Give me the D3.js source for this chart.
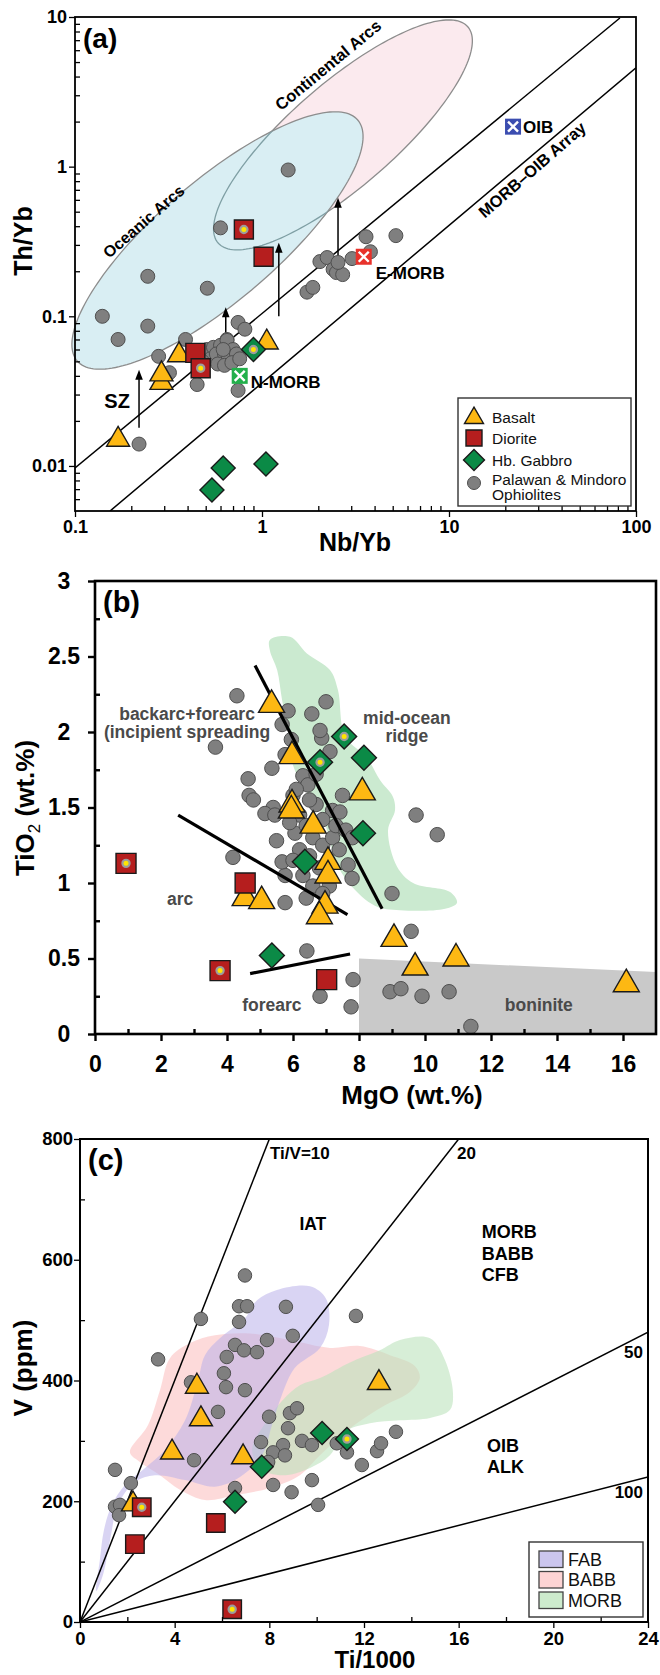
<!DOCTYPE html>
<html>
<head>
<meta charset="utf-8">
<script src="https://cdn.jsdelivr.net/npm/d3@7"></script>
<style>
body { margin: 0; background: #fff; }
svg { display: block; }
</style>
</head>
<body>
<svg id="fig" width="660" height="1675"></svg>
<script>
// ---------- data: panel (a) Th/Yb vs Nb/Yb ----------
const aOphiolites = [
  [0.14, 0.10], [0.245, 0.185], [0.51, 0.154], [0.245, 0.086], [0.17, 0.070], [0.28, 0.054],
  [0.32, 0.042], [0.39, 0.070], [0.45, 0.035], [0.22, 0.014], [0.60, 0.39], [1.38, 0.95],
  [0.745, 0.091], [0.81, 0.082], [0.65, 0.070], [0.745, 0.032],
  [0.51, 0.060], [0.55, 0.062], [0.60, 0.064], [0.65, 0.069], [0.70, 0.060], [0.53, 0.052],
  [0.57, 0.056], [0.63, 0.056], [0.66, 0.054], [0.73, 0.056], [0.58, 0.048], [0.63, 0.047],
  [0.69, 0.049], [0.76, 0.052], [0.62, 0.060], [0.48, 0.050],
  [1.74, 0.145], [1.87, 0.156], [2.04, 0.232], [2.23, 0.247], [2.4, 0.206], [2.5, 0.196],
  [2.7, 0.19], [2.55, 0.229], [3.03, 0.243], [3.6, 0.34], [5.2, 0.346], [3.8, 0.27]
];
const aBasalt = [[0.17, 0.015], [0.29, 0.036], [0.29, 0.041], [0.36, 0.055], [1.06, 0.067]];
const aDiorite = [[0.44, 0.057], [1.02, 0.25]];
const aDioriteDot = [[0.80, 0.38], [0.47, 0.045]];
const aGabbro = [[0.62, 0.0097], [0.54, 0.0069], [1.05, 0.0103]];
const aGabbroDot = [[0.90, 0.060]];
const aReference = [
  { name: "N-MORB", nb: 0.76, th: 0.04, color: "#22b04b" },
  { name: "E-MORB", nb: 3.5, th: 0.25, color: "#e8322b" },
  { name: "OIB", nb: 22, th: 1.85, color: "#3b4db0" }
];
// arrows: Nb/Yb, Th/Yb start, Th/Yb end
const aArrows = [[0.22, 0.018, 0.044], [0.64, 0.074, 0.115], [1.23, 0.10, 0.31], [2.55, 0.233, 0.62]];
const aArrayLines = [[[0.1, 0.0097], [82, 9.85]], [[0.154, 0.005], [100, 4.57]]];
// ellipse fields: centre, end of first semi-axis, end of second semi-axis
const aOceanicArcs = { c: [0.578, 0.321], a: [3.25, 2.05], b: [0.935, 0.16] };
const aContinentalArcs = { c: [2.71, 1.63], a: [12.6, 8.61], b: [4.13, 0.895] };
const aXTicks = [0.1, 1, 10, 100];
const aYTicks = [0.01, 0.1, 1, 10];

// ---------- data: panel (b) TiO2 vs MgO ----------
const bOphiolites = [
  [4.3, 2.24], [3.65, 1.90], [5.85, 2.14], [5.67, 2.05], [6.57, 2.12], [7.0, 2.2], [5.36, 1.76],
  [4.64, 1.69], [4.67, 1.58], [4.8, 1.55], [5.76, 1.85], [6.3, 1.71], [6.87, 1.96], [6.82, 2.01],
  [7.12, 1.87], [6.45, 1.65], [5.4, 1.50], [5.15, 1.46], [7.2, 1.48], [6.7, 1.52], [7.42, 1.47],
  [9.73, 1.45], [10.37, 1.32], [9.0, 0.93], [9.58, 0.68], [7.82, 0.36], [7.76, 0.18], [8.94, 0.28],
  [9.27, 0.30], [9.91, 0.25], [10.73, 0.28], [11.39, 0.05], [6.82, 0.25], [7.67, 1.12], [7.79, 1.03],
  [4.18, 1.17], [5.76, 1.05], [5.76, 0.87], [6.42, 0.55], [5.5, 1.28], [5.67, 1.14], [6.06, 1.33],
  [5.45, 1.45], [6.0, 1.58], [6.2, 1.45], [6.4, 1.38], [6.6, 1.30], [6.9, 1.25], [7.2, 1.30],
  [7.4, 1.22], [6.2, 1.22], [6.5, 1.18], [6.8, 1.10], [7.1, 0.98], [6.6, 0.98], [6.3, 1.05],
  [7.3, 1.38], [7.6, 1.35], [6.0, 1.15], [5.9, 1.40], [6.1, 1.62], [6.5, 1.55], [6.9, 1.42],
  [6.9, 0.93], [6.4, 0.9], [7.5, 1.58], [7.8, 1.30], [6.7, 1.72], [5.95, 1.95]
];
const bBasalt = [
  [5.35, 2.18], [5.97, 1.84], [5.97, 1.52], [5.95, 1.48], [8.1, 1.6], [6.61, 1.38], [7.06, 1.14],
  [7.06, 1.05], [4.55, 0.9], [5.05, 0.88], [6.97, 0.85], [6.8, 0.78], [9.06, 0.63], [9.7, 0.44],
  [10.94, 0.50], [16.1, 0.33]
];
const bDiorite = [[4.55, 1.0], [7.02, 0.36]];
const bDioriteDot = [[0.94, 1.13], [3.79, 0.42]];
const bGabbro = [[8.15, 1.83], [8.12, 1.33], [6.36, 1.14], [5.36, 0.52]];
const bGabbroDot = [[6.82, 1.80], [7.55, 1.97]];
const bMidOceanField = [
  [5.30, 2.61], [5.91, 2.63], [6.42, 2.52], [7.12, 2.41], [7.36, 2.28], [7.58, 1.97], [8.24, 1.83],
  [8.64, 1.68], [9.03, 1.57], [9.09, 1.48], [8.88, 1.35], [9.15, 1.11], [9.64, 1.00], [10.76, 0.94],
  [10.97, 0.87], [10.61, 0.83], [9.24, 0.82], [8.48, 0.85], [7.73, 0.99], [7.27, 1.15], [7.12, 1.28],
  [6.82, 1.48], [6.36, 1.62], [6.0, 1.78], [5.85, 2.01], [5.67, 2.21], [5.52, 2.41], [5.30, 2.54]
];
const bBoniniteField = [[8, 0], [8, 0.5], [17, 0.41], [17, 0]];
const bDividers = [[[4.85, 2.44], [8.7, 0.83]], [[2.52, 1.45], [7.65, 0.79]], [[4.7, 0.40], [7.73, 0.53]]];
const bXTicks = [0, 2, 4, 6, 8, 10, 12, 14, 16];
const bYTicks = [0, 0.5, 1, 1.5, 2, 2.5, 3];

// ---------- data: panel (c) V vs Ti/1000 ----------
const cOphiolites = [
  [3.3, 435], [5.11, 502], [6.97, 574], [6.72, 523], [7.06, 523], [6.72, 497], [8.7, 522], [8.99, 474],
  [7.9, 467], [6.55, 459], [6.93, 450], [7.48, 447], [6.2, 439], [6.08, 412], [6.17, 389], [6.97, 384],
  [4.69, 397], [5.83, 348], [4.82, 268], [1.48, 252], [2.15, 230], [1.48, 191], [1.69, 194], [1.65, 177],
  [7.99, 340], [8.87, 346], [9.17, 354], [8.79, 321], [7.65, 298], [8.58, 293], [8.16, 281], [8.66, 276],
  [9.38, 300], [9.8, 293], [8.16, 227], [8.94, 215], [9.8, 235], [10.06, 194], [7.95, 265], [6.55, 222],
  [10.85, 296], [11.28, 281], [11.91, 260], [12.55, 283], [12.72, 296], [13.35, 315], [11.66, 507]
];
const cBasalt = [[4.94, 390], [5.11, 336], [3.89, 281], [6.89, 273], [2.24, 195], [12.63, 396]];
const cDiorite = [[2.32, 129], [5.74, 164]];
const cDioriteDot = [[2.61, 190], [6.43, 21]];
const cGabbro = [[10.23, 313], [7.68, 257], [6.55, 199]];
const cGabbroDot = [[11.28, 303]];
const cTiVRatios = [10, 20, 50, 100];
const cFAB = [
  [0.68, 51], [0.84, 103], [1.01, 152], [1.35, 194], [1.90, 227], [2.75, 255], [3.59, 285], [4.44, 334],
  [4.99, 401], [5.28, 442], [5.91, 470], [6.97, 503], [7.48, 533], [8.32, 550], [9.72, 556], [10.39, 536],
  [10.52, 492], [10.14, 454], [9.08, 421], [8.53, 376], [8.11, 326], [7.69, 276], [6.76, 240], [5.70, 224],
  [4.44, 235], [3.17, 243], [2.32, 232], [1.61, 194], [1.27, 136], [0.97, 78]
];
const cBABB = [
  [2.11, 281], [2.87, 326], [3.38, 384], [3.80, 437], [4.65, 462], [5.70, 475], [7.18, 478], [8.87, 467],
  [10.56, 454], [11.83, 457], [13.10, 442], [14.15, 424], [14.36, 404], [13.94, 381], [12.89, 359],
  [11.41, 321], [10.14, 276], [9.29, 243], [8.03, 222], [6.55, 210], [5.28, 202], [4.22, 219], [3.38, 243],
  [2.53, 265]
];
const cMORB = [
  [8.58, 368], [9.29, 392], [10.14, 404], [11.41, 430], [12.67, 450], [13.52, 467], [14.79, 470],
  [15.42, 434], [15.76, 379], [15.63, 351], [14.79, 338], [13.52, 334], [12.25, 329], [11.20, 315],
  [10.56, 276], [9.72, 255], [8.66, 243], [7.69, 252], [7.27, 285], [7.82, 329]
];
const cXTicks = [0, 4, 8, 12, 16, 20, 24];
const cYTicks = [0, 200, 400, 600, 800];

// ---------- helpers ----------
const FONT = "'Liberation Sans', Arial, Helvetica, sans-serif";
const COL = {
  gray: "#7f7f7f", grayEdge: "#4f4f4f", basalt: "#fdb813", diorite: "#b51e1e",
  gabbro: "#0b8a46", dot: "#ffe400", ring: "#9c9c9c", edge: "#1a1a1a"
};
const svg = d3.select("#fig").attr("font-family", FONT);

function drawAxes(g, x, y, cfg) {
  const yb = y.range()[0], xl = x.range()[0];
  const mk = (axis, vals, size, fmt, pad, tr) => {
    const a = g.append("g").attr("transform", tr)
      .call(axis.tickValues(vals).tickSize(size).tickPadding(pad).tickFormat(fmt));
    a.select(".domain").remove();
    a.selectAll("line").attr("stroke", "#000").attr("stroke-width", cfg.tickW);
    a.selectAll("text").attr("fill", "#000").attr("font-weight", "bold")
      .attr("font-size", cfg.font).attr("font-family", FONT);
    return a;
  };
  mk(d3.axisBottom(x), cfg.xMinor, -cfg.minor, () => "", 0, `translate(0,${yb})`);
  const xa = mk(d3.axisBottom(x), cfg.xMajor, cfg.major, cfg.fmt, cfg.padX, `translate(0,${yb})`);
  mk(d3.axisLeft(y), cfg.yMinor, -cfg.minor, () => "", 0, `translate(${xl},0)`);
  const ya = mk(d3.axisLeft(y), cfg.yMajor, cfg.major, cfg.fmt, cfg.padY, `translate(${xl},0)`);
  g.append("rect")
    .attr("x", x.range()[0]).attr("y", y.range()[1])
    .attr("width", x.range()[1] - x.range()[0]).attr("height", y.range()[0] - y.range()[1])
    .attr("fill", "none").attr("stroke", "#000").attr("stroke-width", cfg.frameW);
  return { xa, ya };
}

function drawMarker(g, kind, px, py, s, withDot) {
  let el;
  if (kind === "circle") {
    el = g.append("circle").attr("cx", px).attr("cy", py).attr("r", s / 2)
      .attr("fill", COL.gray).attr("stroke", COL.grayEdge).attr("stroke-width", 1);
  } else if (kind === "tri") {
    el = g.append("path").attr("d", d3.symbol(d3.symbolTriangle, s * s * Math.sqrt(3) / 4)())
      .attr("transform", `translate(${px},${py})`).attr("fill", COL.basalt);
  } else if (kind === "sq") {
    el = g.append("path").attr("d", d3.symbol(d3.symbolSquare, s * s)())
      .attr("transform", `translate(${px},${py})`).attr("fill", COL.diorite);
  } else {
    el = g.append("path").attr("d", d3.symbol(d3.symbolSquare, s * s / 2)())
      .attr("transform", `translate(${px},${py}) rotate(45)`).attr("fill", COL.gabbro);
  }
  if (kind !== "circle") el.attr("stroke", COL.edge).attr("stroke-width", 1.4).attr("stroke-linejoin", "miter");
  if (withDot) {
    g.append("circle").attr("cx", px).attr("cy", py).attr("r", 3.6)
      .attr("fill", COL.dot).attr("stroke", COL.ring).attr("stroke-width", 2.2);
  }
}

function plotSet(g, data, x, y, kind, s, withDot) {
  data.forEach(d => drawMarker(g, kind, x(d[0]), y(d[1]), s, withDot));
}

function label(g, text, px, py, o = {}) {
  return g.append("text").attr("x", px).attr("y", py).text(text)
    .attr("font-size", o.size || 16).attr("font-weight", o.weight || "bold")
    .attr("fill", o.fill || "#000").attr("text-anchor", o.anchor || "start");
}

function rotLabel(g, text, px, py, ang, size) {
  return g.append("text").text(text)
    .attr("transform", `translate(${px},${py}) rotate(${ang})`)
    .attr("text-anchor", "middle").attr("dominant-baseline", "central")
    .attr("font-size", size).attr("font-weight", "bold").attr("fill", "#000");
}

// ================= panel (a) =================
const gA = svg.append("g");
const xA = d3.scaleLog().domain([0.1, 100]).range([75, 636]);
const yA = d3.scaleLog().domain([0.005, 10]).range([511, 17]);
const logMinor = (lo, hi) => {
  const out = [];
  for (let e = Math.floor(Math.log10(lo)); e < Math.ceil(Math.log10(hi)); e++) {
    for (let k = 2; k <= 9; k++) { const v = k * 10 ** e; if (v > lo && v < hi) out.push(+v.toPrecision(3)); }
  }
  return out;
};

function ellipsePath(e) {
  const L = p => [Math.log10(p[0]), Math.log10(p[1])];
  const c = L(e.c), a = L(e.a), b = L(e.b);
  const pts = d3.range(0, 2 * Math.PI, Math.PI / 90).map(t => {
    const lx = c[0] + (a[0] - c[0]) * Math.cos(t) + (b[0] - c[0]) * Math.sin(t);
    const ly = c[1] + (a[1] - c[1]) * Math.cos(t) + (b[1] - c[1]) * Math.sin(t);
    return [xA(10 ** lx), yA(10 ** ly)];
  });
  return d3.line()(pts) + "Z";
}

const defs = svg.append("defs");
defs.append("clipPath").attr("id", "clipOcean").append("path").attr("d", ellipsePath(aOceanicArcs));
defs.append("clipPath").attr("id", "clipA").append("rect")
  .attr("x", 75).attr("y", 17).attr("width", 561).attr("height", 494);

gA.append("path").attr("d", ellipsePath(aContinentalArcs))
  .attr("fill", "#fbeaee").attr("stroke", "#8d8d8d").attr("stroke-width", 1.3);
gA.append("path").attr("d", ellipsePath(aOceanicArcs))
  .attr("fill", "#d9eef3").attr("stroke", "#8d8d8d").attr("stroke-width", 1.3);
gA.append("path").attr("d", ellipsePath(aContinentalArcs)).attr("clip-path", "url(#clipOcean)")
  .attr("fill", "none").attr("stroke", "#7f9fa4").attr("stroke-width", 1.3);

gA.append("g").attr("clip-path", "url(#clipA)").selectAll("line").data(aArrayLines).join("line")
  .attr("x1", d => xA(d[0][0])).attr("y1", d => yA(d[0][1]))
  .attr("x2", d => xA(d[1][0])).attr("y2", d => yA(d[1][1]))
  .attr("stroke", "#000").attr("stroke-width", 1.5);

aArrows.forEach(d => {
  const px = xA(d[0]), y0 = yA(d[1]), y1 = yA(d[2]);
  gA.append("line").attr("x1", px).attr("x2", px).attr("y1", y0).attr("y2", y1 + 8)
    .attr("stroke", "#000").attr("stroke-width", 1.5);
  gA.append("path").attr("d", `M${px},${y1}L${px - 3.8},${y1 + 10}L${px + 3.8},${y1 + 10}Z`).attr("fill", "#000");
});

drawAxes(gA, xA, yA, {
  xMajor: aXTicks, xMinor: logMinor(0.1, 100), yMajor: aYTicks, yMinor: logMinor(0.005, 10),
  fmt: d => String(d), font: 18, major: 6, minor: 5, padX: 3, padY: 2, tickW: 1.3, frameW: 1.8
});

plotSet(gA, aOphiolites, xA, yA, "circle", 14);
plotSet(gA, aBasalt, xA, yA, "tri", 23);
plotSet(gA, aDiorite, xA, yA, "sq", 19);
plotSet(gA, aDioriteDot, xA, yA, "sq", 19, true);
plotSet(gA, aGabbro, xA, yA, "dia", 24);
plotSet(gA, aGabbroDot, xA, yA, "dia", 24, true);

aReference.forEach(r => {
  const px = xA(r.nb), py = yA(r.th), h = 8;
  gA.append("rect").attr("x", px - h).attr("y", py - h).attr("width", 2 * h).attr("height", 2 * h).attr("fill", r.color);
  gA.append("path").attr("d", `M${px - h + 3},${py - h + 3}L${px + h - 3},${py + h - 3}M${px + h - 3},${py - h + 3}L${px - h + 3},${py + h - 3}`)
    .attr("stroke", "#fff").attr("stroke-width", 2.4);
});
label(gA, "N-MORB", xA(0.76) + 11, yA(0.04) + 12, { size: 17 });
label(gA, "E-MORB", xA(3.5) + 12, yA(0.25) + 22, { size: 17 });
label(gA, "OIB", xA(22) + 10, yA(1.85) + 6, { size: 17 });
label(gA, "SZ", xA(0.168), yA(0.0271) + 7, { size: 20, anchor: "middle" });

rotLabel(gA, "Oceanic Arcs", xA(0.245) - 4, yA(0.404) - 4, -41, 16);
rotLabel(gA, "Continental Arcs", xA(2.31) - 2, yA(4.64) - 2, -39.5, 16.5);
rotLabel(gA, "MORB\u2013OIB Array", xA(27.8), yA(0.955), -41, 16.5);

label(gA, "(a)", 83, 48, { size: 28 });
label(gA, "Nb/Yb", 355, 551, { size: 25, anchor: "middle" });
gA.append("text").text("Th/Yb").attr("transform", "translate(32,241) rotate(-90)")
  .attr("text-anchor", "middle").attr("font-size", 25).attr("font-weight", "bold");

// legend (a)
const lgA = gA.append("g").attr("transform", "translate(458,398)");
lgA.append("rect").attr("width", 173).attr("height", 108).attr("fill", "#fff")
  .attr("stroke", "#333").attr("stroke-width", 1.4);
drawMarker(lgA, "tri", 16, 20, 19);
drawMarker(lgA, "sq", 16, 40, 16);
drawMarker(lgA, "dia", 16, 62, 21);
drawMarker(lgA, "circle", 16, 85, 13);
[["Basalt", 25], ["Diorite", 46], ["Hb. Gabbro", 68], ["Palawan & Mindoro", 87], ["Ophiolites", 101.5]]
  .forEach(([t, yy]) => label(lgA, t, 34, yy, { size: 15.5, weight: "normal", fill: "#111" }));

// ================= panel (b) =================
const gB = svg.append("g");
const xB = d3.scaleLinear().domain([0, 17]).range([95, 656]);
const yB = d3.scaleLinear().domain([0, 3]).range([1034, 581]);

gB.append("path").datum(bMidOceanField)
  .attr("d", d3.line().x(d => xB(d[0])).y(d => yB(d[1])).curve(d3.curveCatmullRomClosed.alpha(0.5)))
  .attr("fill", "#cbead0");
gB.append("path").datum(bBoniniteField)
  .attr("d", d3.line().x(d => xB(d[0])).y(d => yB(d[1])))
  .attr("fill", "#c9c9c9");

const tb = { size: 17.5, fill: "#4a4a4a", anchor: "middle" };
label(gB, "backarc+forearc", xB(2.79), yB(2.08), tb);
label(gB, "(incipient spreading", xB(2.79), yB(1.96), tb);
label(gB, "mid-ocean", xB(9.45), yB(2.05), tb);
label(gB, "ridge", xB(9.45), yB(1.935), tb);
label(gB, "arc", xB(2.58), yB(0.854), tb);
label(gB, "forearc", xB(5.36), yB(0.152), tb);
label(gB, "boninite", xB(13.45), yB(0.152), tb);

plotSet(gB, bOphiolites, xB, yB, "circle", 14.5);

gB.selectAll("line.div").data(bDividers).join("line").attr("class", "div")
  .attr("x1", d => xB(d[0][0])).attr("y1", d => yB(d[0][1]))
  .attr("x2", d => xB(d[1][0])).attr("y2", d => yB(d[1][1]))
  .attr("stroke", "#000").attr("stroke-width", 3.2);

plotSet(gB, bBasalt, xB, yB, "tri", 26);
plotSet(gB, bDiorite, xB, yB, "sq", 20);
plotSet(gB, bDioriteDot, xB, yB, "sq", 20, true);
plotSet(gB, bGabbro, xB, yB, "dia", 25);
plotSet(gB, bGabbroDot, xB, yB, "dia", 25, true);

const axB = drawAxes(gB, xB, yB, {
  xMajor: bXTicks, xMinor: [1, 3, 5, 7, 9, 11, 13, 15],
  yMajor: bYTicks, yMinor: [0.25, 0.75, 1.25, 1.75, 2.25, 2.75],
  fmt: d => String(d), font: 23, major: 7, minor: 5, padX: 15, padY: 2, tickW: 2.4, frameW: 2.6
});
axB.ya.selectAll("text").attr("text-anchor", "middle").attr("x", -31);

label(gB, "(b)", 103, 612, { size: 29 });
label(gB, "MgO (wt.%)", 412, 1104, { size: 26, anchor: "middle" });
const tiLab = gB.append("text").attr("transform", "translate(34,808) rotate(-90)")
  .attr("text-anchor", "middle").attr("font-size", 26).attr("font-weight", "bold");
tiLab.append("tspan").text("TiO");
tiLab.append("tspan").text("2").attr("font-size", 17).attr("font-weight", "normal").attr("dy", 6);
tiLab.append("tspan").text(" (wt.%)").attr("dy", -6);

// ================= panel (c) =================
const gC = svg.append("g");
const xC = d3.scaleLinear().domain([0, 24]).range([80, 648]);
const yC = d3.scaleLinear().domain([0, 800]).range([1622, 1139]);
const fieldLine = d3.line().x(d => xC(d[0])).y(d => yC(d[1])).curve(d3.curveCatmullRomClosed.alpha(0.5));

gC.append("path").attr("d", fieldLine(cBABB)).attr("fill", "#fbc4c4").attr("fill-opacity", 0.62);
gC.append("path").attr("d", fieldLine(cMORB)).attr("fill", "#bde3bd").attr("fill-opacity", 0.6);
gC.append("path").attr("d", fieldLine(cFAB)).attr("fill", "#b9b0ea").attr("fill-opacity", 0.55);

defs.append("clipPath").attr("id", "clipC").append("rect")
  .attr("x", 80).attr("y", 1139).attr("width", 568).attr("height", 483);
gC.append("g").attr("clip-path", "url(#clipC)").selectAll("line").data(cTiVRatios).join("line")
  .attr("x1", xC(0)).attr("y1", yC(0))
  .attr("x2", r => xC(Math.min(24, 800 * r / 1000)))
  .attr("y2", r => yC(Math.min(24, 800 * r / 1000) * 1000 / r))
  .attr("stroke", "#000").attr("stroke-width", 1.5);

label(gC, "Ti/V=10", xC(8.03), yC(767), { size: 17 });
label(gC, "20", xC(15.93), yC(767), { size: 17 });
label(gC, "50", xC(23.79), yC(437), { size: 17, anchor: "end" });
label(gC, "100", xC(23.79), yC(205), { size: 17, anchor: "end" });
label(gC, "IAT", xC(9.84), yC(650), { size: 17.5, anchor: "middle" });
["MORB", "BABB", "CFB"].forEach((t, i) => label(gC, t, xC(16.98), yC(636 - i * 36), { size: 18 }));
["OIB", "ALK"].forEach((t, i) => label(gC, t, xC(17.2), yC(282 - i * 36), { size: 18 }));

plotSet(gC, cOphiolites, xC, yC, "circle", 13.5);
plotSet(gC, cBasalt, xC, yC, "tri", 23);
plotSet(gC, cDiorite, xC, yC, "sq", 18.5);
plotSet(gC, cDioriteDot, xC, yC, "sq", 18.5, true);
plotSet(gC, cGabbro, xC, yC, "dia", 23);
plotSet(gC, cGabbroDot, xC, yC, "dia", 23, true);

drawAxes(gC, xC, yC, {
  xMajor: cXTicks, xMinor: [2, 6, 10, 14, 18, 22],
  yMajor: cYTicks, yMinor: [100, 300, 500, 700],
  fmt: d => String(d), font: 18.5, major: 6, minor: 5, padX: 4, padY: 1, tickW: 1.3, frameW: 2
});

label(gC, "(c)", 88, 1170, { size: 29 });
label(gC, "Ti/1000", 375, 1668, { size: 24, anchor: "middle" });
gC.append("text").text("V (ppm)").attr("transform", "translate(32,1368) rotate(-90)")
  .attr("text-anchor", "middle").attr("font-size", 26).attr("font-weight", "bold");

// legend (c)
const lgC = gC.append("g").attr("transform", "translate(529,1542)");
lgC.append("rect").attr("width", 114).attr("height", 75).attr("fill", "#fff")
  .attr("stroke", "#333").attr("stroke-width", 1.4);
[["FAB", "#cbc6ee"], ["BABB", "#fdd4d4"], ["MORB", "#cdebcd"]].forEach(([t, c], i) => {
  lgC.append("rect").attr("x", 10).attr("y", 9 + i * 20.5).attr("width", 24).attr("height", 16.5)
    .attr("fill", c).attr("stroke", "#444").attr("stroke-width", 1.3);
  label(lgC, t, 39, 23.5 + i * 20.5, { size: 18, weight: "normal", fill: "#111" });
});
</script>
</body>
</html>
